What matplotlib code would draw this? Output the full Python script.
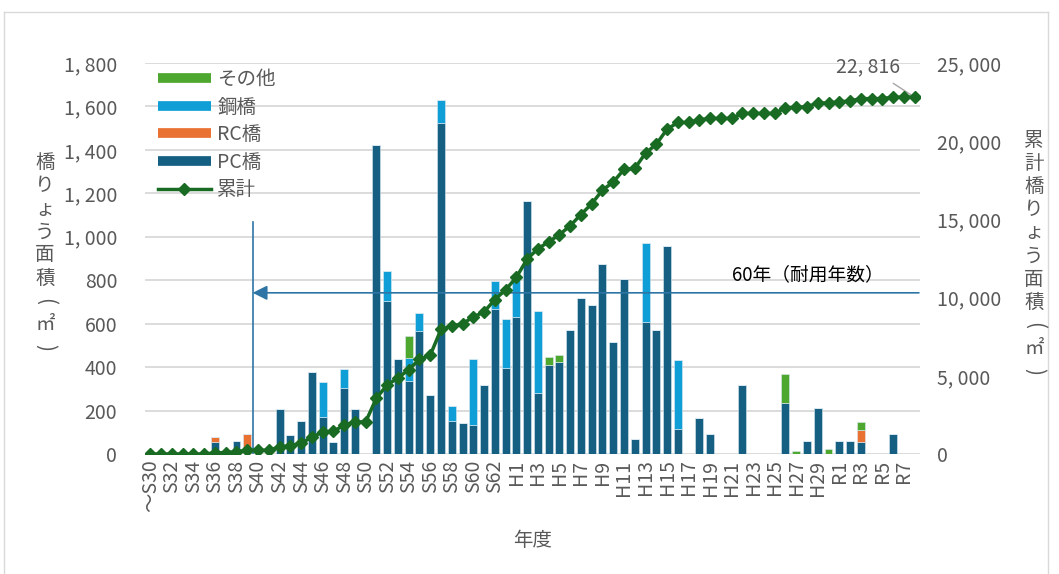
import numpy as np
import matplotlib
matplotlib.use("Agg")
import matplotlib.pyplot as plt
from matplotlib.lines import Line2D

plt.rcParams['font.family'] = ['Noto Sans CJK JP', 'DejaVu Sans']

# ---------------- data ----------------
categories = (["～S30"] + [f"S{i}" for i in range(31, 64)]
              + [f"H{i}" for i in range(1, 31)] + [f"R{i}" for i in range(1, 9)])

pc = [0, 0, 0, 0, 0, 0, 54, 0, 62, 0,
      0, 0, 208, 88, 151, 378, 170, 54, 305, 206,
      0, 1424, 705, 436, 335, 568, 270, 1523, 153, 144,
      134, 316, 666, 395, 632, 1167, 279, 412, 424, 571,
      717, 688, 873, 516, 807, 69, 609, 573, 959, 115,
      0, 167, 92, 0, 0, 318, 0, 0, 0, 234,
      0, 60, 214, 0, 60, 60, 57, 0, 0, 94,
      0, 0]
rc = [0, 0, 0, 0, 0, 0, 23, 12, 0, 90] + [0] * 56 + [54, 0, 0, 0, 0, 0]
steel = [0] * 16 + [163, 0, 87, 0,
                    0, 0, 139, 0, 107, 81, 0, 107, 67, 0,
                    302, 0, 129, 225, 168, 0, 378, 0, 0, 0,
                    0, 0, 0, 0, 0, 0, 361, 0, 0, 316] + [0] * 22
other = [0] * 24 + [101] + [0] * 12 + [33, 34] + [0] * 20 + [134, 15, 0, 0, 22, 0, 0, 38] + [0] * 5
cumulative = [0, 0, 0, 0, 0, 0, 77, 89, 151, 241,
              241, 241, 449, 537, 688, 1066, 1399, 1453, 1845, 2051,
              2051, 3575, 4419, 4855, 5398, 6047, 6317, 7965, 8185, 8329,
              8765, 9081, 9876, 10496, 11296, 12463, 13120, 13565, 14023, 14594,
              15311, 15999, 16872, 17388, 18195, 18264, 19234, 19807, 20766, 21197,
              21197, 21364, 21456, 21456, 21456, 21774, 21774, 21774, 21774, 22142,
              22157, 22217, 22431, 22453, 22513, 22573, 22722, 22722, 22722, 22816,
              22816, 22816]

colors = ["#156082", "#E97132", "#0F9ED5", "#4EA72E"]
line_color = "#196B24"
gray_text = "#595959"

W, H = 1059, 574
fig = plt.figure(figsize=(W / 100, H / 100), dpi=100)

def fx(px):
    return px / W

def fy(py):
    return 1 - py / H

# outer border
fig.add_artist(Line2D([fx(4), fx(4)], [fy(12), 0], color="#d9d9d9", lw=1))
fig.add_artist(Line2D([fx(4), fx(1048)], [fy(12), fy(12)], color="#d9d9d9", lw=1))
fig.add_artist(Line2D([fx(1048), fx(1048)], [fy(12), 0], color="#d9d9d9", lw=1))

ax = fig.add_axes([fx(145), fy(454), (920 - 145) / W, (454 - 63) / H])
x = np.arange(len(categories))

bottom = np.zeros(len(categories))
for vals, c in zip([pc, rc, steel, other], colors):
    v = np.array(vals, dtype=float)
    ax.bar(x, v, width=0.74, bottom=bottom, color=c, edgecolor="#dce9f2",
           linewidth=0.4, zorder=3)
    bottom += v

ax.set_xlim(-0.5, len(categories) - 0.5)
ax.set_ylim(0, 1800)
ax.set_yticks(np.arange(0, 1801, 200))
ax.set_yticklabels([f"{v:,}".replace(",", ", ") for v in range(0, 1801, 200)])
ax.grid(axis="y", color="#d9d9d9", lw=1.3, zorder=0)
for s in ax.spines.values():
    s.set_visible(False)
ax.set_xticks(x[::2])
ax.set_xticklabels(categories[::2], rotation=90, va="top", ha="center")
ax.tick_params(axis="both", length=0, colors=gray_text, labelsize=14)
ax.tick_params(axis="y", pad=20)
ax.tick_params(axis="x", pad=4)

# annotation: 60 years
ax.plot([9.5, 9.5], [0, 1069], color="#2E75A6", lw=1.2, zorder=4)
ax.annotate("", xy=(9.5, 742), xytext=(71.4, 742),
            arrowprops=dict(arrowstyle="-|>", color="#2E75A6", lw=1.2,
                            mutation_scale=22, shrinkA=0, shrinkB=0), zorder=4)
ax.text(54.0, 825, "60年（耐用年数）", fontsize=13.5, color="black",
        ha="left", va="center", zorder=5)

# cumulative on secondary axis
ax2 = ax.twinx()
ax2.plot(x, cumulative, color=line_color, lw=2.5, marker="D", markersize=6.5, zorder=5)
ax2.set_ylim(0, 25000)
ax2.set_yticks(np.arange(0, 25001, 5000))
ax2.set_yticklabels([f"{v:,}".replace(",", ", ") for v in range(0, 25001, 5000)])
ax2.tick_params(axis="y", length=0, colors=gray_text, labelsize=14, pad=12)
for s in ax2.spines.values():
    s.set_visible(False)

ax2.annotate(f"{cumulative[-1]:,}".replace(",", ", "), xy=(x[-1], cumulative[-1]),
             xytext=(868, H - 67), textcoords="figure pixels",
             ha="center", va="center", fontsize=14, color=gray_text,
             arrowprops=dict(arrowstyle="-", color="#a6a6a6", lw=1,
                             shrinkA=4, shrinkB=3))

# legend
handles = [Line2D([], [], color=colors[3], lw=7, solid_capstyle="butt"),
           Line2D([], [], color=colors[2], lw=7, solid_capstyle="butt"),
           Line2D([], [], color=colors[1], lw=7, solid_capstyle="butt"),
           Line2D([], [], color=colors[0], lw=7, solid_capstyle="butt"),
           Line2D([], [], color=line_color, lw=2.5, marker="D", markersize=6.5)]
labels = ["その他", "鋼橋", "RC橋", "PC橋", "累計"]
leg = fig.legend(handles, labels, loc="upper left",
                 bbox_to_anchor=(fx(158), fy(69)), bbox_transform=fig.transFigure,
                 frameon=False, fontsize=14, handlelength=2.7, handletextpad=0.35,
                 labelspacing=0.34, borderpad=0, borderaxespad=0)
for t in leg.get_texts():
    t.set_color(gray_text)

# axis titles (vertical writing)
def vertical_title(chars, xpx, y0, step):
    for i, ch in enumerate(chars):
        if ch in ("(", ")"):
            fig.text(fx(xpx), fy(y0 + step * i), ch, ha="center", va="center",
                     fontsize=15, color=gray_text, rotation=-90,
                     rotation_mode="default")
        else:
            fig.text(fx(xpx), fy(y0 + step * i), ch, ha="center", va="center",
                     fontsize=14, color=gray_text)

vertical_title(["橋", "り", "ょ", "う", "面", "積", "(", "㎡", ")"], 45, 163, 23)
vertical_title(["累", "計", "橋", "り", "ょ", "う", "面", "積", "(", "㎡", ")"],
               1034, 140, 23.2)

fig.text(fx(533), fy(541), "年度", ha="center", va="center", fontsize=14,
         color=gray_text)

fig.savefig("out.png", dpi=100)
